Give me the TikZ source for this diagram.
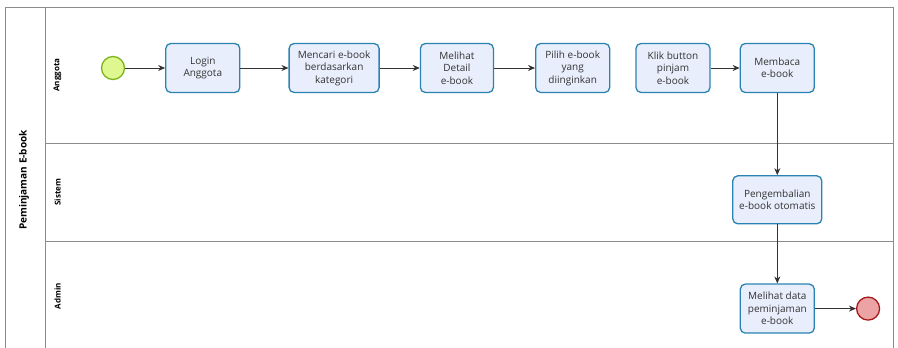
\documentclass[tikz,border=0pt]{standalone}
\usepackage{fontspec}
\setmainfont{Open Sans}
\usetikzlibrary{arrows.meta,positioning}
\definecolor{taskfill}{HTML}{E8EEFB}
\definecolor{taskline}{HTML}{2B83B3}
\definecolor{startfill}{HTML}{DFF78F}
\definecolor{startline}{HTML}{7DB320}
\definecolor{endfill}{HTML}{EBA3A3}
\definecolor{endline}{HTML}{A8171B}
\definecolor{laneline}{HTML}{8C8C8C}

\begin{document}
\begin{tikzpicture}[x=1pt, y=1pt,
  task/.style={draw=taskline, line width=1.3pt, rounded corners=5pt, fill=taskfill, minimum width=74pt, minimum height=49pt, align=center, font=\fontsize{10}{12.5}\selectfont, text=black!80, inner sep=2pt},
  startev/.style={circle, draw=startline, fill=startfill, line width=1.3pt, minimum size=23pt, inner sep=0pt},
  endev/.style={circle, draw=endline, fill=endfill, line width=1.3pt, minimum size=23pt, inner sep=0pt},
  flow/.style={-{Stealth[length=7pt, width=6pt]}, black!80, line width=0.8pt},
  lane/.style={draw=laneline, line width=0.8pt},
  lanelabel/.style={rotate=90, font=\bfseries\fontsize{8}{9}\selectfont},
  node distance=40pt
]
  \useasboundingbox (0,0) rectangle (898,348);
  % pool and lanes
  \draw[lane] (5,0) -- (5,341) -- (893,341) -- (893,0);
  \draw[lane] (45,0) -- (45,341);
  \draw[lane] (45,205) -- (893,205);
  \draw[lane] (45,107) -- (893,107);
  \node[lanelabel, font=\bfseries\fontsize{10}{11}\selectfont] (pool) at (24,168) {Peminjaman E-book};
  \node[lanelabel] (anggota) at (57.5,273) {Anggota};
  \node[lanelabel] (sistem) at (57.5,156) {Sistem};
  \node[lanelabel] (admin) at (57.5,52) {Admin};

  % tasks
  \node[startev] (start) at (113,280) {};
  \node[task, right=40pt of start] (login) {Login\\Anggota};
  \node[task, right=48pt of login, minimum width=90pt] (cari) {Mencari e-book\\berdasarkan\\kategori};
  \node[task, right=40pt of cari, minimum width=73pt] (detail) {Melihat\\Detail\\e-book};
  \node[task, right=41pt of detail] (pilih) {Pilih e-book\\yang\\diinginkan};
  \node[task, right=25pt of pilih] (klik) {Klik button\\pinjam\\e-book};
  \node[task, right=29pt of klik] (baca) {Membaca\\e-book};
  \node[task, below=82pt of baca, minimum width=89pt, minimum height=48pt] (kembali) {Pengembalian\\e-book otomatis};
  \node[task, below=59pt of kembali] (lihatdata) {Melihat data\\peminjaman\\e-book};
  \node[endev, right=41pt of lihatdata] (finish) {};

  \draw[flow] (start) -- (login);
  \draw[flow] (login) -- (cari);
  \draw[flow] (cari) -- (detail);
  \draw[flow] (detail) -- (pilih);
  \draw[flow] (klik) -- (baca);
  \draw[flow] (baca) -- (kembali);
  \draw[flow] (kembali) -- (lihatdata);
  \draw[flow] (lihatdata) -- (finish);
\end{tikzpicture}
\end{document}
